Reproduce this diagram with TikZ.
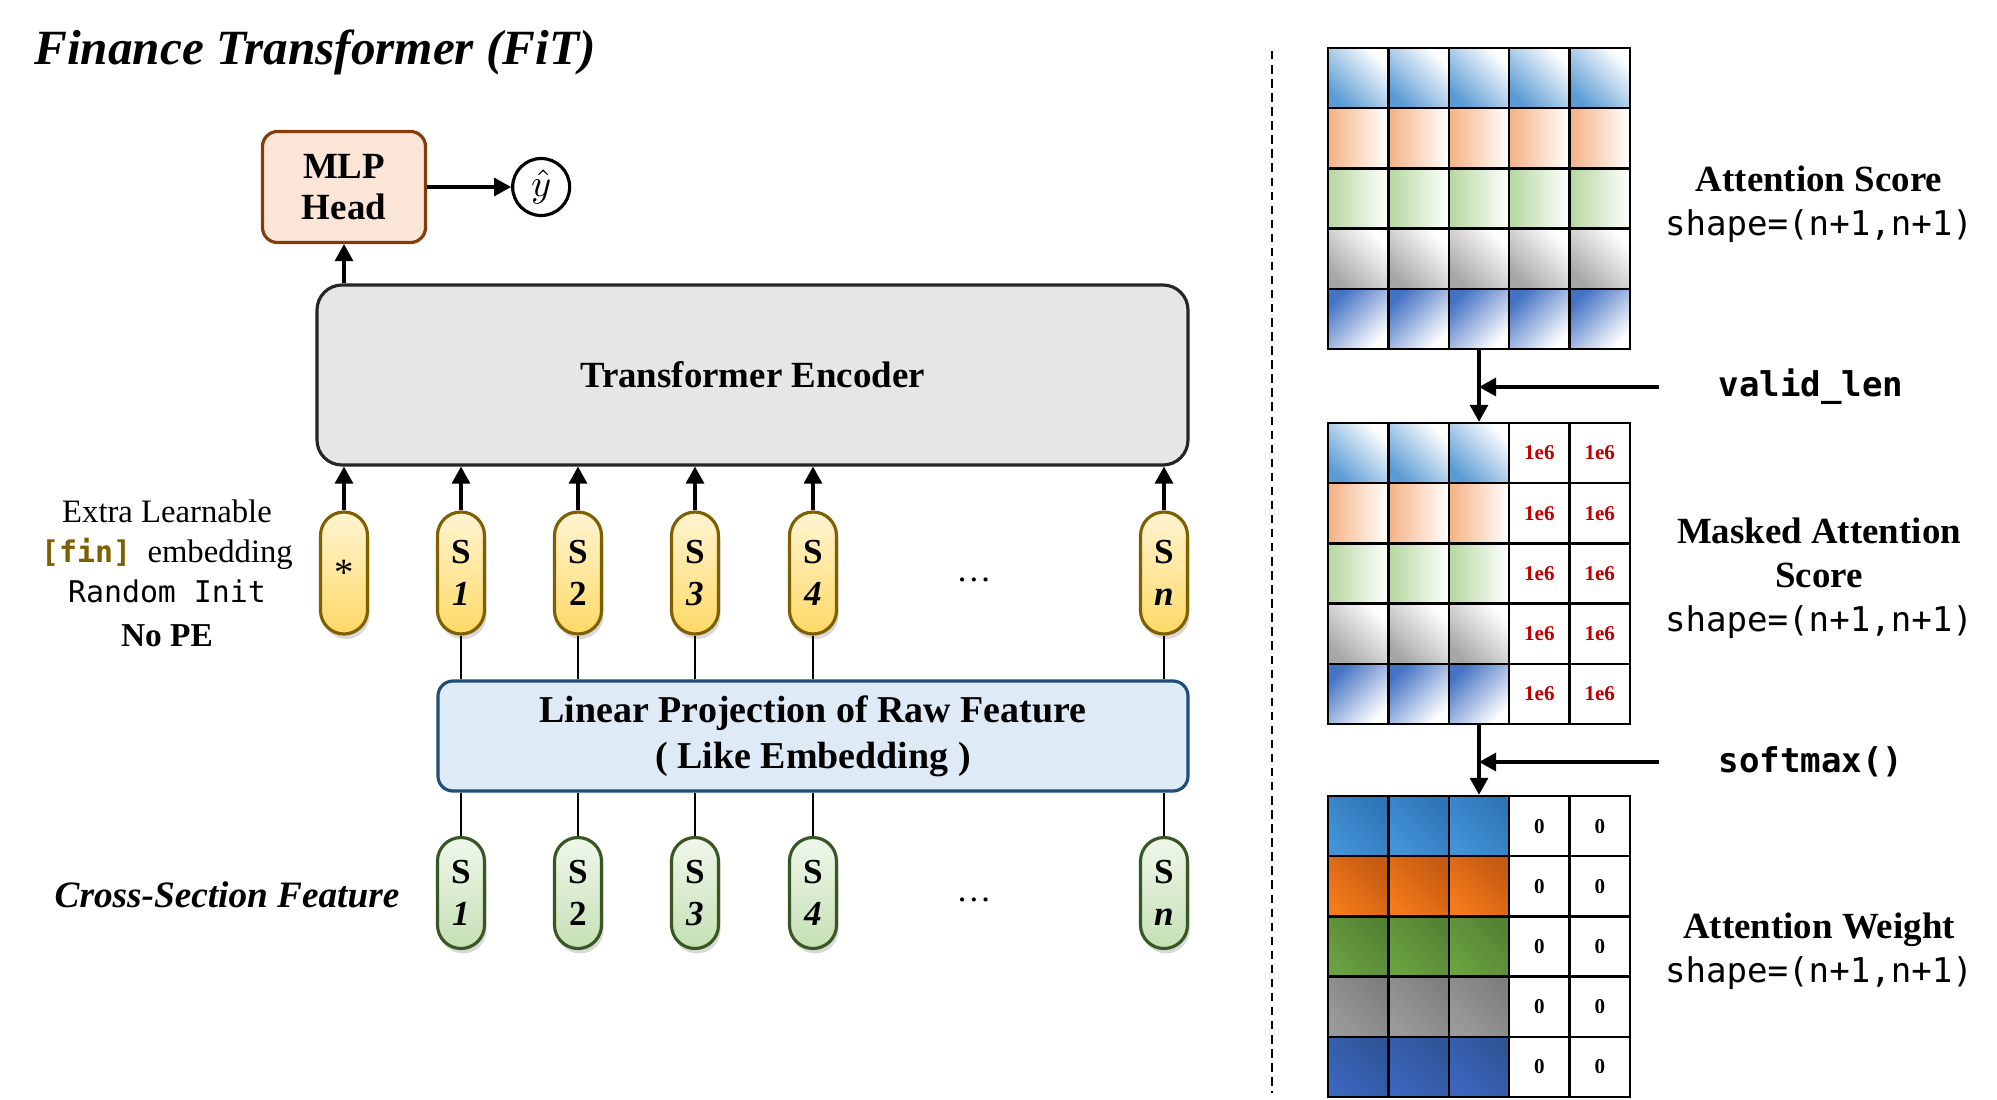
\documentclass[tikz,border=0pt]{standalone}
\usepackage{fontspec}
\setmainfont{Liberation Serif}
\setmonofont{DejaVu Sans Mono}
\usepackage{xcolor}
\usepackage{tikz}
\usetikzlibrary{positioning,arrows.meta,shadows}

\definecolor{mlpfill}{HTML}{FBE5D6}
\definecolor{mlpline}{HTML}{843C0C}
\definecolor{encfill}{HTML}{E6E6E6}
\definecolor{encline}{HTML}{262626}
\definecolor{projfill}{HTML}{DEEBF7}
\definecolor{projline}{HTML}{1F4E79}
\definecolor{tokline}{HTML}{7F6000}
\definecolor{toktop}{HTML}{FFF4D1}
\definecolor{tokbot}{HTML}{FFD966}
\definecolor{feattop}{HTML}{F0F7EB}
\definecolor{featbot}{HTML}{C5E0B4}
\definecolor{featline}{HTML}{385723}
\definecolor{maskred}{HTML}{C00000}
\definecolor{sblue}{HTML}{5B9BD5}
\definecolor{speach}{HTML}{F4B183}
\definecolor{sgreen}{HTML}{B4D79E}
\definecolor{sgray}{HTML}{A6A6A6}
\definecolor{sdblue}{HTML}{4472C4}
\definecolor{wblue}{HTML}{2E75B6}
\definecolor{wblueL}{HTML}{4293D8}
\definecolor{worange}{HTML}{C55A11}
\definecolor{worangeL}{HTML}{F47A1A}
\definecolor{wgreen}{HTML}{548235}
\definecolor{wgreenL}{HTML}{6BA140}
\definecolor{wgray}{HTML}{7F7F7F}
\definecolor{wgrayL}{HTML}{9A9A9A}
\definecolor{wdblue}{HTML}{2F5597}
\definecolor{wdblueL}{HTML}{3B66BE}

\newcommand{\shapelbl}{{\normalfont\ttfamily\fontsize{9.7}{12.5}\selectfont shape=(n+1,n+1)}}

\begin{document}
\begin{tikzpicture}[
  blk/.style={draw, rounded corners=0.15cm, align=center, line width=0.9pt, font=\fontsize{10.5}{12.8}\selectfont\bfseries},
  mlpbox/.style={blk, fill=mlpfill, draw=mlpline, minimum width=1.63cm, minimum height=1.11cm, font=\fontsize{10.5}{11.7}\selectfont\bfseries},
  encbox/.style={blk, fill=encfill, draw=encline, rounded corners=0.25cm, minimum width=8.71cm, minimum height=1.80cm},
  projbox/.style={blk, fill=projfill, draw=projline, minimum width=7.50cm, minimum height=1.10cm, font=\fontsize{10.8}{13}\selectfont\bfseries},
  pill/.style={draw, line width=0.9pt, rounded corners=0.235cm, minimum width=0.47cm, inner sep=0pt, align=center,
    font=\fontsize{10}{12}\selectfont\bfseries, drop shadow={opacity=0.3, shadow xshift=0.02cm, shadow yshift=-0.05cm}},
  tok/.style={pill, draw=tokline, top color=toktop, bottom color=tokbot, minimum height=1.22cm},
  feat/.style={pill, draw=featline, top color=feattop, bottom color=featbot, minimum height=1.11cm},
  cell/.style={draw, line width=0.7pt, minimum width=0.604cm, minimum height=0.602cm, inner sep=0pt, font=\fontsize{6}{7}\selectfont\bfseries},
  arr/.style={-{Triangle[length=0.17cm, width=0.18cm]}, line width=0.9pt},
  link/.style={line width=0.7pt},
  lbl/.style={align=center, font=\fontsize{10.5}{12.5}\selectfont\bfseries},
  code/.style={font=\fontsize{9.7}{12}\selectfont\ttfamily\bfseries}
]
\useasboundingbox (0,0) rectangle (19.97,-10.99);

\node[font=\fontsize{14}{16}\selectfont\bfseries\itshape] (title) at (3.15,-0.52) {Finance Transformer (FiT)};

\node[encbox] (enc) at (7.525,-3.75) {Transformer Encoder};
\node[mlpbox] (mlp) at (3.44,-1.87) {MLP\\Head};
\node[draw, circle, line width=0.9pt, minimum size=0.57cm, inner sep=0pt, right=0.84cm of mlp, font=\fontsize{11}{13}\selectfont] (yhat) {$\hat{y}$};
\node[projbox] (proj) at (8.13,-7.36) {Linear Projection of Raw Feature\\( Like Embedding )};

\node[tok, font=\fontsize{11}{12}\selectfont] (tok0) at (3.44,-5.73) {*};
\foreach \i/\x/\lab in {1/4.61/\textit{1}, 2/5.78/2, 3/6.95/\textit{3}, 4/8.13/\textit{4}, 5/11.64/\textit{n}}{
  \node[tok] (tok\i) at (\x,-5.73) {S\\\lab};
  \node[feat] (feat\i) at (\x,-8.93) {S\\\lab};
}
\node (dots1) at (9.74,-5.80) {\dots};
\node (dots2) at (9.74,-9.00) {\dots};

\node[align=center, font=\fontsize{9.3}{11.4}\selectfont] (fininfo) at (1.67,-5.73)
  {Extra Learnable\\{\ttfamily\bfseries\fontsize{8.5}{11.4}\selectfont\color{tokline}[fin]}\ \ embedding\\{\ttfamily\fontsize{8.5}{11.4}\selectfont Random Init}\\[1pt]{\fontsize{9.5}{11.4}\selectfont\bfseries No PE}};
\node[font=\fontsize{10.6}{12}\selectfont\bfseries\itshape] (csf) at (2.27,-8.95) {Cross-Section Feature};

\draw[arr] (enc.north -| mlp.south) -- (mlp.south);
\draw[arr] (mlp) -- (yhat);
\draw[arr] (tok0) -- (tok0 |- enc.south);
\foreach \i in {1,...,5}{
  \draw[arr] (tok\i) -- (tok\i |- enc.south);
  \draw[link] (tok\i) -- (tok\i |- proj.north);
  \draw[link] (feat\i) -- (feat\i |- proj.south);
}

\draw[line width=0.7pt, dash pattern=on 2.4pt off 1.6pt] (12.72,-0.51) -- (12.72,-10.93);

\foreach \r/\bc/\tc/\ang/\wdk/\wlt in {1/sblue/white/-45/wblue/wblueL, 2/speach/white/-90/worange/worangeL, 3/sgreen/white/-90/wgreen/wgreenL, 4/sgray/white/-45/wgray/wgrayL, 5/white/sdblue/45/wdblue/wdblueL}{
  \foreach \c in {1,...,5}
    \node[cell, bottom color=\bc, top color=\tc, shading angle=\ang] (s-\r-\c) at ({13.582+(\c-1)*0.604},{-0.781-(\r-1)*0.602}) {};
  \foreach \c in {1,2,3}{
    \node[cell, bottom color=\bc, top color=\tc, shading angle=\ang] (m-\r-\c) at ({13.582+(\c-1)*0.604},{-4.531-(\r-1)*0.602}) {};
    \node[cell, bottom color=\wlt, top color=\wdk, shading angle=-45] (w-\r-\c) at ({13.582+(\c-1)*0.604},{-8.261-(\r-1)*0.602}) {};
  }
  \foreach \c in {4,5}{
    \node[cell, text=maskred] (m-\r-\c) at ({13.582+(\c-1)*0.604},{-4.531-(\r-1)*0.602}) {1e6};
    \node[cell] (w-\r-\c) at ({13.582+(\c-1)*0.604},{-8.261-(\r-1)*0.602}) {0};
  }
}

\node[lbl] (scorelbl) at (18.19,-2.04) {Attention Score\\\shapelbl};
\node[lbl] (masklbl) at (18.19,-5.78) {Masked Attention\\Score\\\shapelbl};
\node[lbl] (weightlbl) at (18.19,-9.51) {Attention Weight\\\shapelbl};
\node[code] (vlen) at (18.11,-3.87) {valid\_len};
\node[code] (smax) at (18.11,-7.62) {softmax()};

\draw[arr] (s-5-3) -- (m-1-3);
\draw[arr] (m-5-3) -- (w-1-3);
\draw[arr] ([xshift=-0.47cm]vlen.west) -- (vlen.west -| s-5-3.south);
\draw[arr] ([xshift=-0.47cm]smax.west) -- (smax.west -| m-5-3.south);
\end{tikzpicture}
\end{document}
